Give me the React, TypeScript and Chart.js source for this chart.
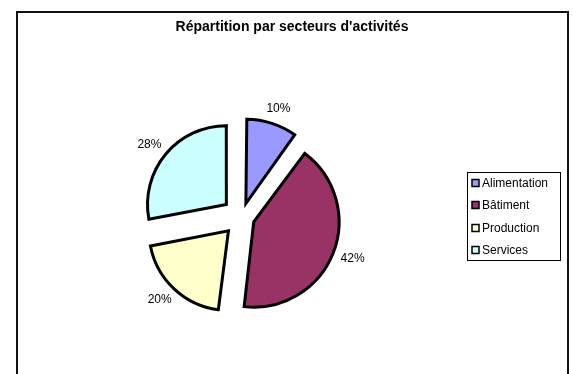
import React, { useEffect, useRef } from "react";
import { Chart, registerables } from "chart.js";

Chart.register(...registerables);

const TITLE = "Répartition par secteurs d'activités";
const CATEGORIES = ["Alimentation", "Bâtiment", "Production", "Services"];
const VALUES = [10, 42, 20, 28];
const COLORS = ["#9999FF", "#993366", "#FFFFCC", "#CCFFFF"];

const EXPLODE = 20;
const RADIUS = 78.5;
const FONT = "Arial, 'Liberation Sans', sans-serif";

const decorPlugin = {
  id: "decor",
  beforeDraw(chart: any) {
    const ctx = chart.ctx;
    ctx.save();
    ctx.fillStyle = "#ffffff";
    ctx.fillRect(0, 0, chart.width, chart.height);
    ctx.strokeStyle = "#111111";
    ctx.lineWidth = 2;
    ctx.beginPath();
    ctx.moveTo(17, 420);
    ctx.lineTo(17, 12);
    ctx.lineTo(568, 12);
    ctx.lineTo(568, 420);
    ctx.stroke();
    ctx.restore();
  },
  afterDraw(chart: any) {
    const ctx = chart.ctx;
    ctx.save();
    // title
    ctx.fillStyle = "#000";
    ctx.font = `bold 14px ${FONT}`;
    ctx.textAlign = "center";
    ctx.textBaseline = "middle";
    ctx.fillText(TITLE, 292, 27);

    // percentage labels
    const meta = chart.getDatasetMeta(0);
    const data = chart.data.datasets[0].data as number[];
    const total = data.reduce((a, b) => a + b, 0);
    ctx.font = `12px ${FONT}`;
    meta.data.forEach((arc: any, i: number) => {
      const { x, y, startAngle, endAngle, outerRadius } = arc.getProps(
        ["x", "y", "startAngle", "endAngle", "outerRadius"],
        true
      );
      const mid = (startAngle + endAngle) / 2;
      const dx = Math.cos(mid);
      const dy = Math.sin(mid);
      const txt = Math.round((data[i] / total) * 100) + "%";
      const w = ctx.measureText(txt).width;
      const h = 12;
      const r = outerRadius + EXPLODE + 9;
      const lx = x + dx * r + (dx * w) / 2;
      const ly = y + dy * r + (dy * h) / 2;
      ctx.fillText(txt, lx, ly);
    });

    // legend
    const lx0 = 467.5, ly0 = 172.5, lw = 93, lh = 88;
    ctx.strokeStyle = "#000";
    ctx.lineWidth = 1;
    ctx.strokeRect(lx0, ly0, lw, lh);
    ctx.textAlign = "left";
    CATEGORIES.forEach((c, i) => {
      const cy = 183 + i * 22.4;
      ctx.fillStyle = COLORS[i];
      ctx.fillRect(472, Math.round(cy) - 3.5, 7, 7);
      ctx.strokeStyle = "#000";
      ctx.lineWidth = 1.5;
      ctx.strokeRect(472, Math.round(cy) - 3.5, 7, 7);
      ctx.fillStyle = "#000";
      ctx.fillText(c, 482, cy + 0.5);
    });
    ctx.restore();
  },
};

export default function App() {
  const ref = useRef<HTMLCanvasElement | null>(null);
  useEffect(() => {
    if (!ref.current) return;
    const total = VALUES.reduce((a, b) => a + b, 0);
    const chart = new Chart(ref.current, {
      type: "pie",
      data: {
        labels: CATEGORIES,
        datasets: [
          {
            data: VALUES,
            backgroundColor: COLORS,
            borderColor: "#000",
            borderWidth: 3,
            borderJoinStyle: "miter",
            radius: RADIUS,
            offset: (c: any) => {
              const circ = (c.raw / total) * Math.PI * 2;
              const fix = 1 - Math.sin(Math.min(Math.PI, circ));
              return (EXPLODE * 4) / (1 + fix);
            },
          } as any,
        ],
      },
      options: {
        responsive: false,
        animation: false,
        layout: { padding: { left: 0, right: 90, top: 60, bottom: 0 } },
        plugins: {
          legend: { display: false },
          title: { display: false },
          tooltip: { enabled: false },
        },
        events: [],
      },
      plugins: [decorPlugin],
    });
    return () => chart.destroy();
  }, []);
  return (
    <div style={{ position: "absolute", left: 0, top: 0, width: 573, height: 374 }}>
      <canvas ref={ref} width={573} height={374} style={{ display: "block" }} />
    </div>
  );
}
